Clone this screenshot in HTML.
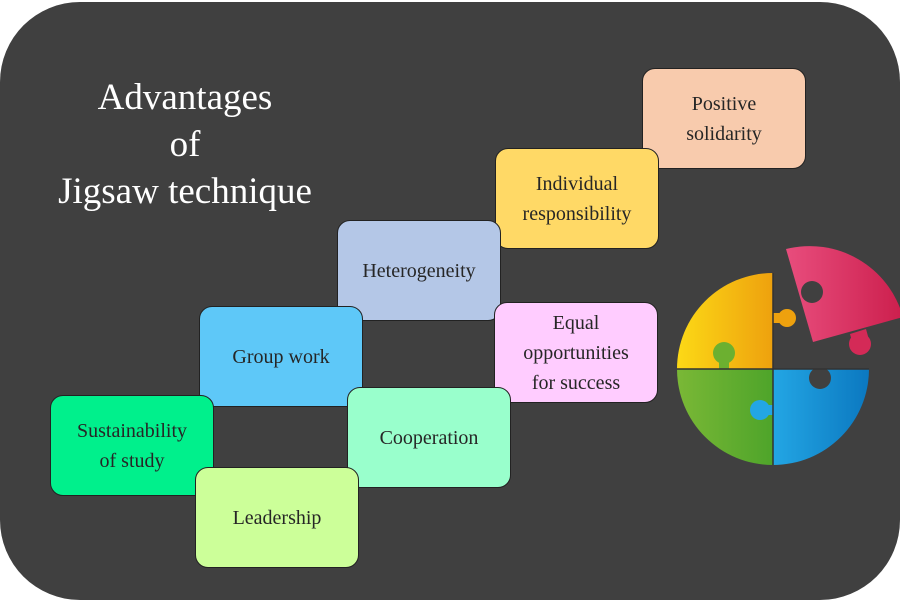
<!DOCTYPE html>
<html><head><meta charset="utf-8"><style>
body{margin:0;background:#fff;width:900px;height:600px;overflow:hidden;position:relative;font-family:"Liberation Serif",serif}
.bg{position:absolute;left:0;top:2px;width:900px;height:598px;background:#404040;border-radius:80px}
.t{position:absolute;left:30px;top:74px;width:310px;text-align:center;color:#fff;font-size:37px;line-height:47px}
.b{position:absolute;width:164px;height:101px;border:1px solid #222;border-radius:13px;display:flex;align-items:center;justify-content:center;text-align:center;font-size:20px;line-height:30px;color:#262626;box-sizing:border-box}
</style></head><body>
<div class="bg"></div>
<div class="t">Advantages<br>of<br>Jigsaw technique</div>
<div class="b" style="left:642px;top:68px;background:#f8cbad">Positive<br>solidarity</div>
<div class="b" style="left:495px;top:148px;background:#ffd966">Individual<br>responsibility</div>
<div class="b" style="left:337px;top:220px;background:#b4c7e7">Heterogeneity</div>
<div class="b" style="left:494px;top:302px;background:#ffccff">Equal<br>opportunities<br>for success</div>
<div class="b" style="left:199px;top:306px;background:#5ec8f8">Group work</div>
<div class="b" style="left:347px;top:387px;background:#99ffcc">Cooperation</div>
<div class="b" style="left:50px;top:395px;background:#00f08c">Sustainability<br>of study</div>
<div class="b" style="left:195px;top:467px;background:#ccff99">Leadership</div>
<svg style="position:absolute;left:0;top:0" width="900" height="600">
<defs>
<linearGradient id="gy" x1="0" x2="1"><stop offset="0" stop-color="#fcd916"/><stop offset="1" stop-color="#eea10e"/></linearGradient>
<linearGradient id="gg" x1="0" x2="1"><stop offset="0" stop-color="#7ab836"/><stop offset="1" stop-color="#4ea42a"/></linearGradient>
<linearGradient id="gb" x1="0" x2="1"><stop offset="0" stop-color="#23a6e4"/><stop offset="1" stop-color="#0b78c0"/></linearGradient>
<linearGradient id="gp" x1="0" x2="1"><stop offset="0" stop-color="#e84d7d"/><stop offset="1" stop-color="#cc1f4d"/></linearGradient>
</defs>
<path d="M773,273 A96,96 0 0 0 677,369 L773,369 Z" fill="url(#gy)"/>
<rect x="772" y="313" width="10" height="10" fill="#eea10e"/>
<circle cx="787" cy="318" r="9" fill="#eea10e"/>
<path d="M677,369 A96,96 0 0 0 773,465 L773,369 Z" fill="url(#gg)"/>
<rect x="719" y="354" width="10" height="16" fill="#6cb030"/>
<circle cx="724" cy="353" r="11" fill="#6cb030"/>
<path d="M773,369 L869,369 A96,96 0 0 1 773,465 Z" fill="url(#gb)"/>
<rect x="761" y="405" width="13" height="10" fill="#23a6e4"/>
<circle cx="760" cy="410" r="10" fill="#23a6e4"/>
<circle cx="820" cy="378" r="11" fill="#404040"/>
<path d="M773,273 L773,369 L869,369" fill="none" stroke="#333" stroke-width="1.5"/>
<path d="M677,369 L773,369 L773,465" fill="none" stroke="#333" stroke-width="1.5"/>
<path d="M813,342 L786,249 A97,97 0 0 1 903,317 Z" fill="url(#gp)"/>
<path d="M850,334 L866,329 L869,340 L853,345 Z" fill="#d42a57"/>
<circle cx="860" cy="344" r="11" fill="#d42a57"/>
<circle cx="812" cy="292" r="11" fill="#404040"/>
</svg>
</body></html>
